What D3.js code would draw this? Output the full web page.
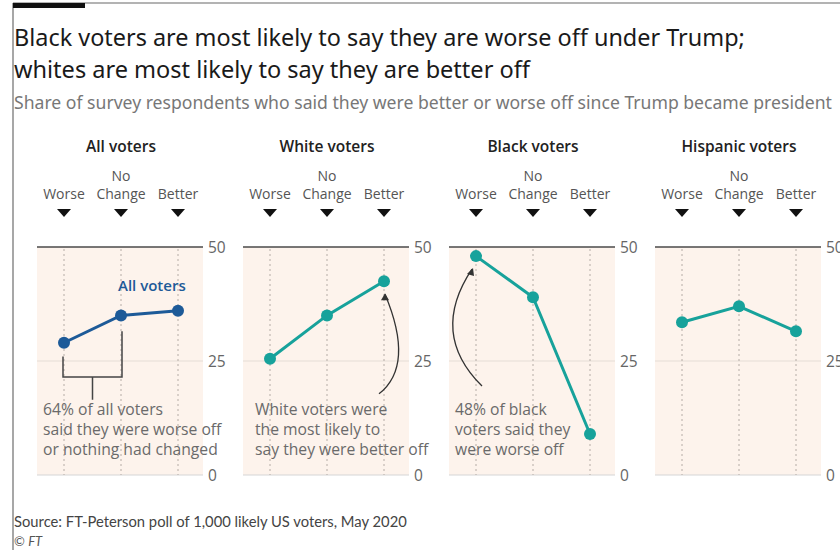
<!DOCTYPE html>
<html><head><meta charset="utf-8">
<script src="https://cdn.jsdelivr.net/npm/d3@7"></script>
<style>
body{margin:0;background:#fff;}
svg{display:block;font-family:"Open Sans", Lato, sans-serif;}
</style></head>
<body><svg id="c" width="840" height="550"></svg>
<script>
const categories = ["Worse", "No Change", "Better"];
const panelTitles = ["All voters", "White voters", "Black voters", "Hispanic voters"];
const allVoters = [29, 35, 36];
const whiteVoters = [25.5, 35, 42.5];
const blackVoters = [48, 39, 9];
const hispanicVoters = [33.5, 37, 31.5];
const yTicks = [0, 25, 50];
const titleLines = ["Black voters are most likely to say they are worse off under Trump;",
                    "whites are most likely to say they are better off"];
const subtitle = "Share of survey respondents who said they were better or worse off since Trump became president";
const sourceText = "Source: FT-Peterson poll of 1,000 likely US voters, May 2020";
const seriesList = [allVoters, whiteVoters, blackVoters, hispanicVoters];
const seriesColors = ["#1d5a98", "#17a29b", "#17a29b", "#17a29b"];

const svg = d3.select("#c");

function fit(sel, w){
  const n = sel.node(); const len = n.getComputedTextLength();
  const fs = parseFloat(sel.attr("font-size"));
  sel.attr("font-size", (fs * w / len).toFixed(2));
  return sel;
}

// frame
svg.append("line").attr("x1",13).attr("x2",840).attr("y1",3).attr("y2",3).attr("stroke","#9a9a9a").attr("stroke-width",1.5);
svg.append("line").attr("x1",13).attr("x2",13).attr("y1",3).attr("y2",550).attr("stroke","#8a8a8a").attr("stroke-width",1.5);
svg.append("rect").attr("x",13).attr("y",3).attr("width",72).attr("height",5).attr("fill","#111");

// titles
titleLines.forEach((t,i)=>{
  const s = svg.append("text").attr("x",14).attr("y",[46,78][i]).attr("font-size",22).attr("fill","#1a1a1a")
    .attr("font-family","'Noto Sans', sans-serif").text(t);
  fit(s, [731,516][i]);
});
fit(svg.append("text").attr("x",14).attr("y",109).attr("font-size",16).attr("fill","#777")
  .attr("font-family","'Noto Sans', sans-serif").text(subtitle), 818);

fit(svg.append("text").attr("x",14).attr("y",527).attr("font-size",13).attr("fill","#444")
  .attr("font-family","Lato, sans-serif").text(sourceText), 393);
const cp = svg.append("text").attr("x",14).attr("y",546).attr("font-size",13).attr("fill","#555")
  .attr("font-family","Lato, sans-serif");
cp.append("tspan").text("© ");
cp.append("tspan").attr("font-style","italic").text("FT");

// scales
const panelX = d3.scaleLinear().domain([0,3]).range([37, 655]);
const panelW = 166;
const y = d3.scaleLinear().domain([0,50]).range([475,247]);

seriesList.forEach((vals, i)=>{
  const left = panelX(i);
  const x = d3.scalePoint().domain(categories).range([left+27, left+141]);
  const g = svg.append("g");
  g.append("rect").attr("x",left).attr("y",y(50)).attr("width",panelW).attr("height",y(0)-y(50)).attr("fill","#fdf3ec");
  // gridlines
  yTicks.forEach(t=>{
    g.append("line").attr("x1",left).attr("x2",left+panelW).attr("y1",y(t)).attr("y2",y(t))
      .attr("stroke", t===50 ? "#4a4a4a" : (t===25 ? "#e6ddd5" : "#d6d6d6"))
      .attr("stroke-width", t===50 ? 1.6 : 1.2);
    g.append("text").attr("x",left+panelW+5).attr("y",y(t)+5.5).attr("font-size",15.5).attr("fill","#666").text(t);
  });
  categories.forEach(c=>{
    g.append("line").attr("x1",x(c)).attr("x2",x(c)).attr("y1",y(50)+2).attr("y2",y(0))
      .attr("stroke","#b5aca6").attr("stroke-width",1).attr("stroke-dasharray","2,3");
    const words = c === "No Change" ? ["No","Change"] : [c];
    words.forEach((w,k)=>{
      g.append("text").attr("x",x(c)).attr("y", 199 - (words.length-1-k)*18).attr("text-anchor","middle")
        .attr("font-size",14).attr("fill","#555").text(w);
    });
    g.append("path").attr("d", `M${x(c)-7},209 L${x(c)+7},209 L${x(c)},217 Z`).attr("fill","#111");
  });
  g.append("text").attr("x",x("No Change")).attr("y",152).attr("text-anchor","middle")
    .attr("font-size",15.5).attr("font-weight",600).attr("fill","#222").text(panelTitles[i]);
  // line
  const line = d3.line().x((d,k)=>x(categories[k])).y(d=>y(d));
  g.append("path").datum(vals).attr("d",line).attr("fill","none").attr("stroke",seriesColors[i]).attr("stroke-width",3);
  g.selectAll("circle.pt").data(vals).join("circle").attr("class","pt")
    .attr("cx",(d,k)=>x(categories[k])).attr("cy",d=>y(d)).attr("r",6).attr("fill",seriesColors[i]);

  const annColor = "#6a6a6a";
  const annotate = (lines, x0) => lines.forEach((l,k)=>{
    g.append("text").attr("x",x0).attr("y",415+k*20).attr("font-size",15.7).attr("fill",annColor).text(l);
  });
  if(i===0){
    g.append("text").attr("x",x("No Change")-3).attr("y",y(allVoters[2])-20).attr("font-size",15)
      .attr("font-weight",600).attr("fill",seriesColors[0]).text("All voters");
    const bx0 = x("Worse")-1, bx1 = x("No Change")+1, by = y(21.5);
    g.append("path").attr("d",
      `M${bx0},${y(26)} V${by} H${bx1} V${y(31.5)} M${(bx0+bx1)/2},${by} V${y(16.5)}`)
      .attr("fill","none").attr("stroke","#444").attr("stroke-width",1.5);
    annotate(["64% of all voters","said they were worse off","or nothing had changed"], left+6);
  }
  if(i===1){
    annotate(["White voters were","the most likely to","say they were better off"], left+12);
    const ex = x("Better")+1, ey = y(whiteVoters[2])+13;
    g.append("path").attr("d",`M${ex-6},${y(17.8)} Q${ex+30},${y(24)} ${ex},${ey}`)
      .attr("fill","none").attr("stroke","#333").attr("stroke-width",1.3);
    g.append("path").attr("d",`M${ex-4},${ey+6} L${ex},${ey-1} L${ex+4},${ey+6} Z`).attr("fill","#333");
  }
  if(i===2){
    annotate(["48% of black","voters said they","were worse off"], left+6);
    const ex = x("Worse")-4, ey = y(blackVoters[0])+13;
    g.append("path").attr("d",`M${ex+10},${y(19.5)} Q${ex-43},${y(31)} ${ex},${ey}`)
      .attr("fill","none").attr("stroke","#333").attr("stroke-width",1.3);
    g.append("path").attr("d",`M${ex-5},${ey+5} L${ex+1},${ey-1} L${ex+2},${ey+7} Z`).attr("fill","#333");
  }
});
</script></body></html>
